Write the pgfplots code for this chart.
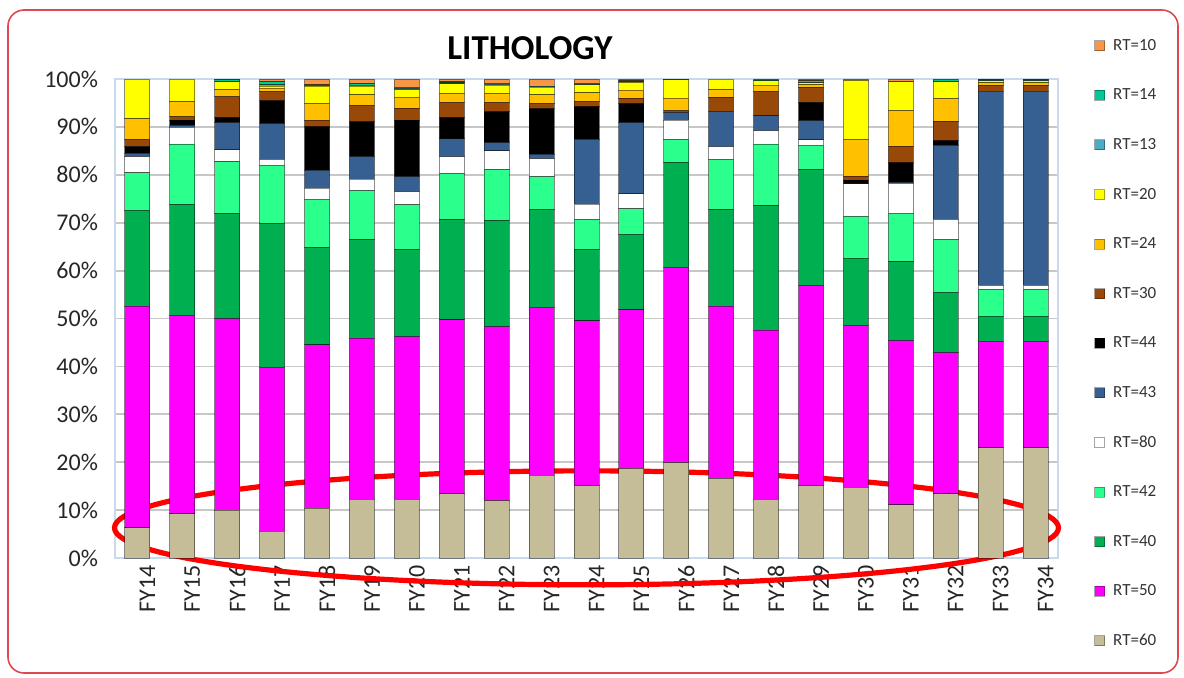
\documentclass[border=0pt]{standalone}
\usepackage{fontspec}
\setmainfont{Carlito}
\usepackage{pgfplots}
\pgfplotsset{compat=1.18}
\usepackage{pgfplotstable}

\definecolor{c60}{HTML}{C4BD97}
\definecolor{c50}{HTML}{FF00FF}
\definecolor{c40}{HTML}{00B050}
\definecolor{c42}{HTML}{2BFF8C}
\definecolor{c80}{HTML}{FFFFFF}
\definecolor{c43}{HTML}{366092}
\definecolor{c44}{HTML}{000000}
\definecolor{c30}{HTML}{984807}
\definecolor{c24}{HTML}{FFC000}
\definecolor{c20}{HTML}{FFFF00}
\definecolor{c13}{HTML}{4BACC6}
\definecolor{c14}{HTML}{00C896}
\definecolor{c10}{HTML}{F79646}
\definecolor{framered}{HTML}{E0484F}
\definecolor{axblue}{HTML}{C9D9EE}

\pgfplotstableread{
x  r60  r50  r40  r42  r80  r43  r44  r30  r24  r20  r13  r14  r10
0  6.3  46.3 20.0 7.8  3.4  0.7  1.4  1.4  4.4  8.3  0    0    0
1  9.2  41.5 23.0 12.7 3.5  0.4  1.1  0.7  3.2  4.7  0    0    0
2  10.0 40.0 22.0 10.7 2.5  5.7  1.1  4.3  1.5  1.6  0    0.4  0.2
3  5.6  34.2 30.1 12.1 1.2  7.5  4.8  1.8  0.8  0.4  0.3  0.6  0.6
4  10.4 34.1 20.4 10.0 2.3  3.7  9.1  1.4  3.5  3.6  0.1  0.2  1.2
5  12.3 33.6 20.5 10.3 2.4  4.7  7.3  3.3  2.3  1.8  0.2  0.3  1.0
6  12.3 33.9 18.3 9.2  2.8  3.1  11.8 2.5  2.3  1.6  0.2  0.3  1.7
7  13.4 36.3 20.9 9.7  3.5  3.7  4.5  3.1  1.9  2.0  0.2  0.2  0.6
8  12.0 36.3 22.1 10.7 3.9  1.7  6.5  1.9  1.9  1.7  0.2  0.2  0.9
9  17.3 35.0 20.5 6.8  3.8  0.9  9.5  1.0  1.9  1.6  0.1  0.1  1.5
10 15.1 34.4 14.9 6.3  3.2  13.5 6.8  1.0  1.9  1.7  0.1  0.2  0.9
11 18.7 33.1 15.7 5.4  3.1  14.9 4.0  1.1  1.7  1.6  0.1  0.2  0.4
12 19.9 40.8 21.8 4.9  4.0  1.6  0    0.4  2.6  3.8  0.1  0.1  0
13 16.6 36.0 20.1 10.5 2.7  7.3  0    3.0  1.6  2.2  0    0    0
14 12.3 35.3 25.9 12.9 2.8  3.1  0    5.0  1.4  0.9  0    0.4  0
15 15.1 41.8 24.2 5.1  1.1  4.0  3.8  3.2  0.5  0.4  0.1  0.3  0.4
16 14.8 33.8 14.0 8.7  6.8  0    0.8  0.8  7.7  12.3 0    0    0.3
17 11.1 34.3 16.4 10.2 6.2  0.2  4.1  3.5  7.4  6.0  0    0    0.6
18 13.4 29.5 12.5 11.1 4.2  15.5 0.9  4.1  4.7  3.5  0    0.6  0
19 23.0 22.2 5.3  5.6  0.8  40.5 0    1.3  0.5  0.4  0.2  0.2  0
20 23.0 22.2 5.3  5.6  0.8  40.5 0    1.3  0.5  0.4  0.2  0.2  0
}\lith

\pgfplotsset{
  sq/.style={fill=#1, draw=black, draw opacity=0.45, line width=0.5pt,
    legend image code/.code={\draw[fill=#1, draw=black, draw opacity=0.35, line width=0.5pt] (0pt,-2.5pt) rectangle (5pt,2.5pt);}},
}

\begin{document}
\begin{tikzpicture}
\path[use as bounding box] (-57.5pt,-59.5pt) rectangle (534.5pt,279pt);
\draw[framered, line width=0.8pt, rounded corners=8pt] (-53.5pt,-57.5pt) rectangle (531.5pt,274pt);
\begin{axis}[
  at={(0pt,0pt)}, anchor=south west,
  scale only axis, width=471.5pt, height=239.5pt,
  ybar stacked, bar width=12.5pt,
  xmin=-0.5, xmax=20.5, ymin=0, ymax=100,
  clip=false,
  xtick={0,...,20},
  xticklabels={FY14,FY15,FY16,FY17,FY18,FY19,FY20,FY21,FY22,FY23,FY24,FY25,FY26,FY27,FY28,FY29,FY30,FY31,FY32,FY33,FY34},
  ytick={0,10,...,100},
  yticklabels={0\%,10\%,20\%,30\%,40\%,50\%,60\%,70\%,80\%,90\%,100\%},
  major tick length=0pt,
  ymajorgrids, grid style={draw=black!22, line width=0.9pt},
  axis line style={draw=axblue, line width=0.6pt},
  tick label style={font=\fontsize{12}{14}\selectfont, text=black!85},
  xticklabel style={rotate=90, anchor=east, yshift=-5pt},
  yticklabel style={anchor=east, xshift=-5pt},
  title={LITHOLOGY},
  title style={font=\fontsize{17.5}{20}\bfseries\selectfont, at={(0.44,1.04)}, anchor=center},
  legend style={draw=none, fill=none, at={(1.038,1.086)}, anchor=north west,
    font=\fontsize{8.5}{10}\selectfont, text=black!80, row sep=17.3pt, column sep=4pt, inner sep=0pt,
    nodes={inner sep=0pt, text height=6pt, text depth=1.5pt, anchor=west}},
  legend cell align=left,
  reverse legend,
]
\addplot[sq=c60] table[x=x,y=r60]{\lith};
\addplot[sq=c50] table[x=x,y=r50]{\lith};
\addplot[sq=c40] table[x=x,y=r40]{\lith};
\addplot[sq=c42] table[x=x,y=r42]{\lith};
\addplot[sq=c80] table[x=x,y=r80]{\lith};
\addplot[sq=c43] table[x=x,y=r43]{\lith};
\addplot[sq=c44] table[x=x,y=r44]{\lith};
\addplot[sq=c30] table[x=x,y=r30]{\lith};
\addplot[sq=c24] table[x=x,y=r24]{\lith};
\addplot[sq=c20] table[x=x,y=r20]{\lith};
\addplot[sq=c13] table[x=x,y=r13]{\lith};
\addplot[sq=c14] table[x=x,y=r14]{\lith};
\addplot[sq=c10] table[x=x,y=r10]{\lith};
\legend{RT=60,RT=50,RT=40,RT=42,RT=80,RT=43,RT=44,RT=30,RT=24,RT=20,RT=13,RT=14,RT=10}
\draw[red, line width=2.6pt] (axis cs:10,6.3) ellipse [x radius=236pt, y radius=28.5pt];
\end{axis}
\end{tikzpicture}
\end{document}
